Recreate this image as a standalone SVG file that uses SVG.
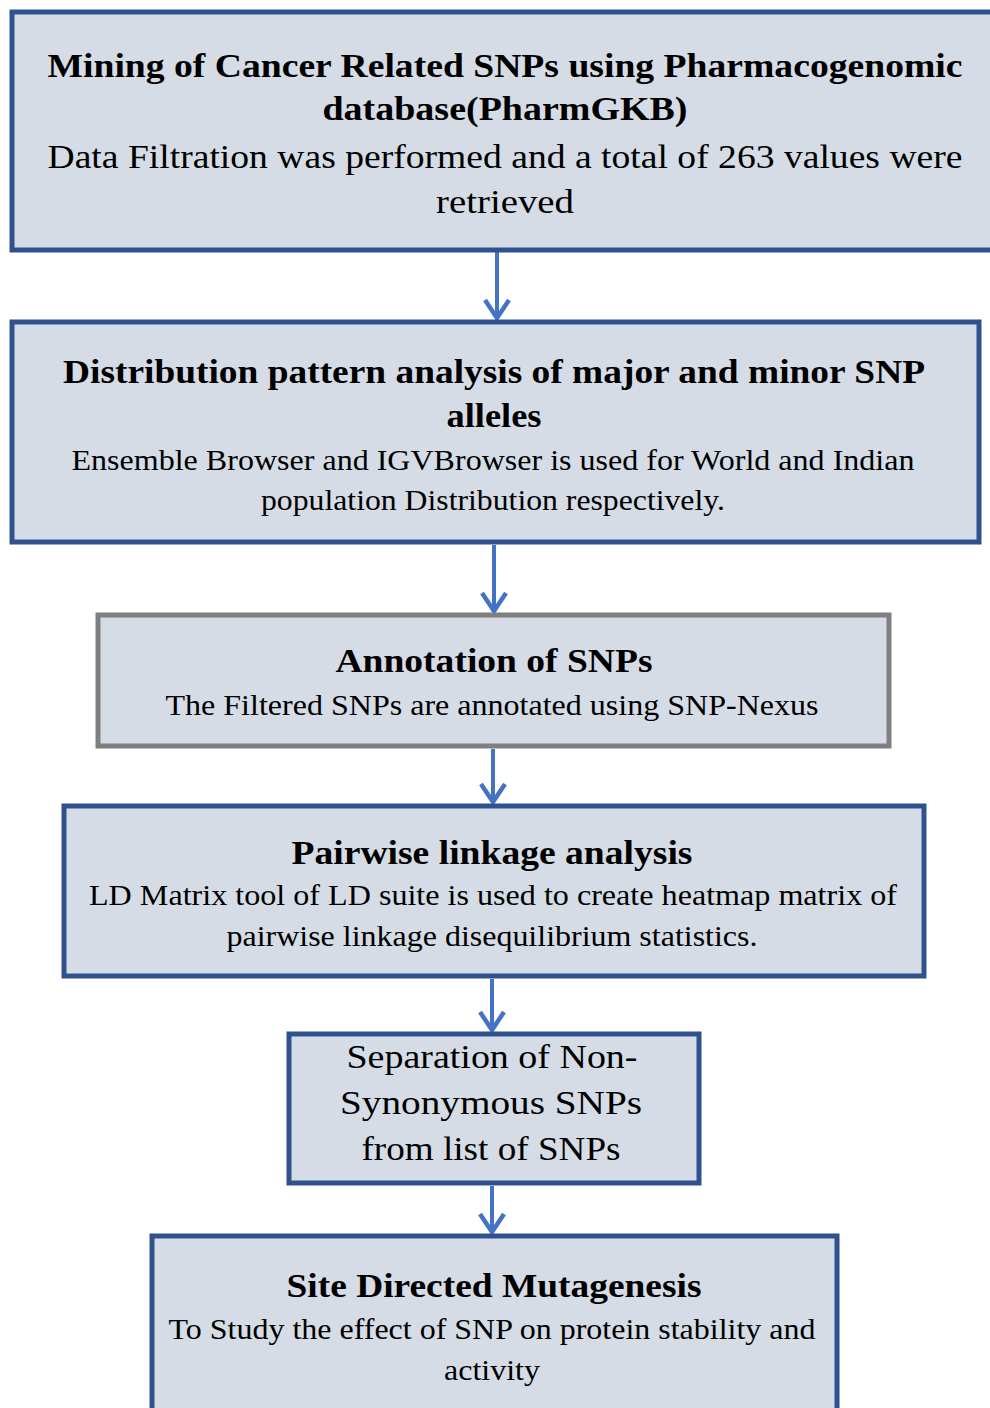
<svg xmlns="http://www.w3.org/2000/svg" width="990" height="1408" viewBox="0 0 990 1408">
<defs>
<style>
.box{fill:#d6dce5;stroke:#2f528f;stroke-width:5}
.gbox{fill:#d6dce5;stroke:#7f7f7f;stroke-width:5}
.t{font-family:"Liberation Serif","Times New Roman",serif;fill:#000;text-anchor:middle}
.b{font-weight:bold}
.conn{stroke:#4472c4;stroke-width:4;fill:none}
</style>
<marker id="arrow" viewBox="0 0 30 30" refX="27" refY="15" markerWidth="30" markerHeight="30" markerUnits="userSpaceOnUse" orient="auto">
<path d="M9,3 L27,15 L9,27" fill="none" stroke="#4472c4" stroke-width="4.5"/>
</marker>
</defs>
<rect width="990" height="1408" fill="#fff"/>
<g id="connectors">
<line class="conn" x1="497" y1="252" x2="497" y2="318" marker-end="url(#arrow)"/>
<line class="conn" x1="494" y1="545" x2="494" y2="611" marker-end="url(#arrow)"/>
<line class="conn" x1="493" y1="749" x2="493" y2="802" marker-end="url(#arrow)"/>
<line class="conn" x1="492" y1="979" x2="492" y2="1030" marker-end="url(#arrow)"/>
<line class="conn" x1="492" y1="1186" x2="492" y2="1232" marker-end="url(#arrow)"/>
</g>
<g id="node1">
<rect class="box" x="12" y="12" width="990" height="238"/>
<text class="t b" x="505" y="77" font-size="33" textLength="915" lengthAdjust="spacingAndGlyphs">Mining of Cancer Related SNPs using Pharmacogenomic</text>
<text class="t b" x="505" y="120" font-size="33" textLength="365" lengthAdjust="spacingAndGlyphs">database(PharmGKB)</text>
<text class="t" x="505" y="168" font-size="33" textLength="915" lengthAdjust="spacingAndGlyphs">Data Filtration was performed and a total of 263 values were</text>
<text class="t" x="505" y="213" font-size="33" textLength="138" lengthAdjust="spacingAndGlyphs">retrieved</text>
</g>
<g id="node2">
<rect class="box" x="12" y="322" width="967" height="220"/>
<text class="t b" x="494" y="383" font-size="33" textLength="862" lengthAdjust="spacingAndGlyphs">Distribution pattern analysis of major and minor SNP</text>
<text class="t b" x="494" y="427" font-size="33" textLength="95" lengthAdjust="spacingAndGlyphs">alleles</text>
<text class="t" x="493" y="470" font-size="29" textLength="843" lengthAdjust="spacingAndGlyphs">Ensemble Browser and IGVBrowser is used for World and Indian</text>
<text class="t" x="493" y="510" font-size="29" textLength="464" lengthAdjust="spacingAndGlyphs">population Distribution respectively.</text>
</g>
<g id="node3">
<rect class="gbox" x="98" y="615" width="791" height="131"/>
<text class="t b" x="494" y="672" font-size="33" textLength="317" lengthAdjust="spacingAndGlyphs">Annotation of SNPs</text>
<text class="t" x="492" y="715" font-size="30" textLength="653" lengthAdjust="spacingAndGlyphs">The Filtered SNPs are annotated using SNP-Nexus</text>
</g>
<g id="node4">
<rect class="box" x="64" y="806" width="860" height="170"/>
<text class="t b" x="492" y="864" font-size="33" textLength="401" lengthAdjust="spacingAndGlyphs">Pairwise linkage analysis</text>
<text class="t" x="493" y="905" font-size="30" textLength="808" lengthAdjust="spacingAndGlyphs">LD Matrix tool of LD suite is used to create heatmap matrix of</text>
<text class="t" x="492" y="946" font-size="30" textLength="531" lengthAdjust="spacingAndGlyphs">pairwise linkage  disequilibrium  statistics.</text>
</g>
<g id="node5">
<rect class="box" x="289" y="1034" width="410" height="149"/>
<text class="t" x="492" y="1068" font-size="33" textLength="291" lengthAdjust="spacingAndGlyphs">Separation of Non-</text>
<text class="t" x="491" y="1114" font-size="33" textLength="302" lengthAdjust="spacingAndGlyphs">Synonymous  SNPs</text>
<text class="t" x="491" y="1160" font-size="33" textLength="259" lengthAdjust="spacingAndGlyphs">from list of SNPs</text>
</g>
<g id="node6">
<rect class="box" x="152" y="1236" width="685" height="190"/>
<text class="t b" x="494" y="1297" font-size="33" textLength="415" lengthAdjust="spacingAndGlyphs">Site Directed Mutagenesis</text>
<text class="t" x="492" y="1339" font-size="30" textLength="647" lengthAdjust="spacingAndGlyphs">To Study the effect of SNP on protein stability and</text>
<text class="t" x="492" y="1380" font-size="30" textLength="96" lengthAdjust="spacingAndGlyphs">activity</text>
</g>
</svg>
